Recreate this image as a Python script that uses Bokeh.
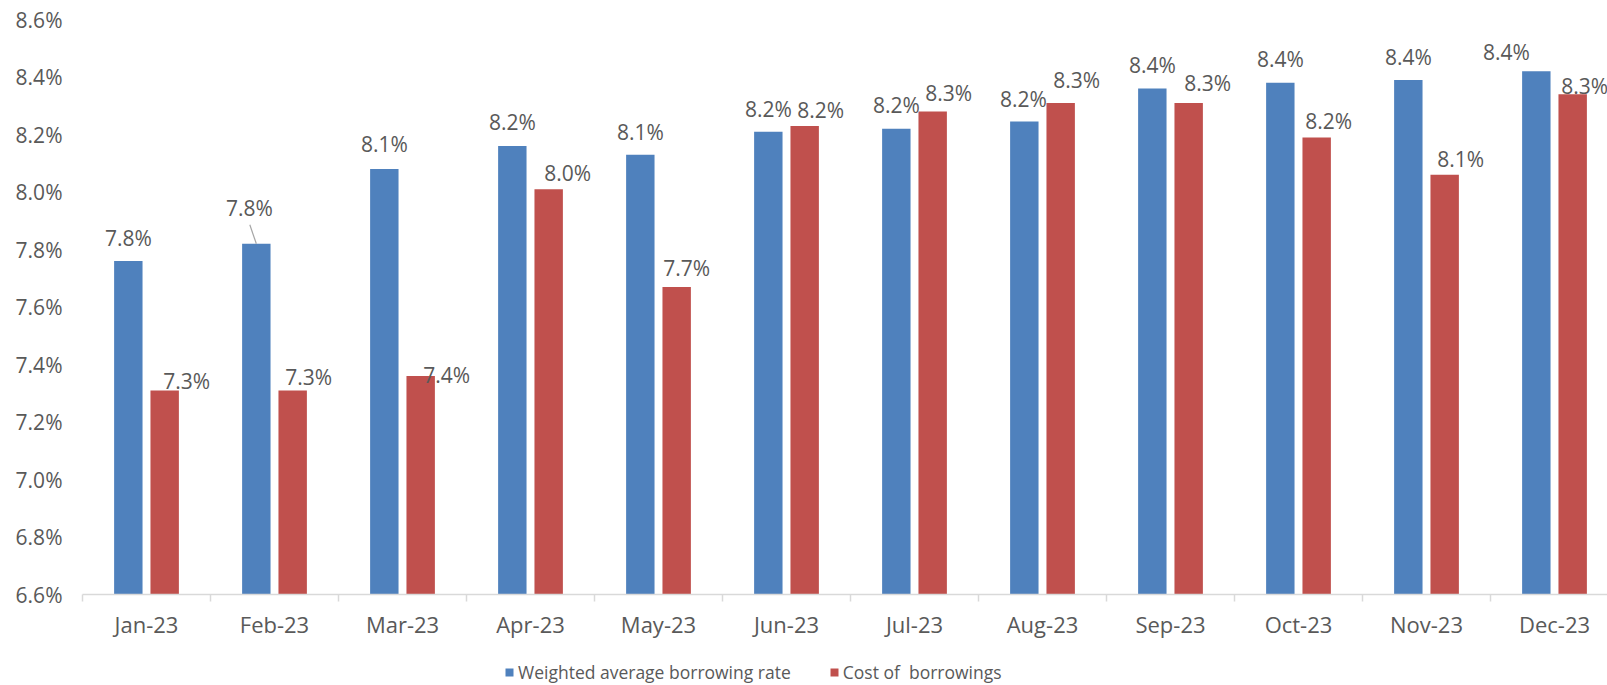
import numpy as np
from bokeh.plotting import figure
from bokeh.layouts import column
from bokeh.models import Range1d, FixedTicker, PrintfTickFormatter, Legend, LegendItem
from bokeh.embed import file_html
from bokeh.resources import INLINE
from bokeh.core.properties import value

# ---------------- data ----------------
months = ["Jan-23", "Feb-23", "Mar-23", "Apr-23", "May-23", "Jun-23",
          "Jul-23", "Aug-23", "Sep-23", "Oct-23", "Nov-23", "Dec-23"]
weighted_avg_rate = [7.76, 7.82, 8.08, 8.16, 8.13, 8.21, 8.22, 8.245, 8.36, 8.38, 8.39, 8.42]
cost_of_borrowings = [7.31, 7.31, 7.36, 8.01, 7.67, 8.23, 8.28, 8.31, 8.31, 8.19, 8.06, 8.34]
y_ticks = [6.6, 6.8, 7.0, 7.2, 7.4, 7.6, 7.8, 8.0, 8.2, 8.4, 8.6]
series_names = ["Weighted average borrowing rate", "Cost of  borrowings"]

# ---------------- label placement (screen pixels) ----------------
blue_label_dx = [0, -7, 0, 0, 0, 0, 0, -1, 0, 0, 0, -30]
blue_label_dy = [-23, -36, -25, -24, -23, -23, -24, -23, -24, -24, -23, -19]
red_label_dx = [22, 16, 26, 19, 10, 16, 16, 16, 19, 12, 16, 12]
red_label_dy = [-9, -13, -1, -16, -19, -16, -19, -23, -20, -16, -16, -8]

FONT = "Open Sans"
TEXT = "#595959"
BLUE = "#4F81BD"
RED = "#C0504D"
AXIS = "#D9D9D9"

CAT_PX = 128.0          # pixel width of one month slot
FRAME_W = 1525
FRAME_H = 575
BAR_W = 0.222
BAR_OFF = 0.142

idx = np.arange(len(months))
centers = idx + 0.5
x_blue = centers - BAR_OFF
x_red = centers + BAR_OFF

p = figure(width=1607, height=654, output_backend="svg", toolbar_location=None,
           x_range=Range1d(0, FRAME_W / CAT_PX), y_range=Range1d(y_ticks[0], y_ticks[-1]),
           min_border_left=82, min_border_right=0, min_border_top=19, min_border_bottom=60)
p.outline_line_color = None
p.xgrid.grid_line_color = None
p.ygrid.grid_line_color = None
p.background_fill_color = "white"
p.border_fill_color = "white"

rb = p.vbar(x=x_blue, top=weighted_avg_rate, bottom=y_ticks[0], width=BAR_W,
            fill_color=BLUE, line_color=None)
rr = p.vbar(x=x_red, top=cost_of_borrowings, bottom=y_ticks[0], width=BAR_W,
            fill_color=RED, line_color=None)

# leader line for Feb label
px_per_pct = FRAME_H / (y_ticks[-1] - y_ticks[0])
p.segment(x0=[x_blue[1]], y0=[weighted_avg_rate[1]],
          x1=[x_blue[1] - 6.5 / CAT_PX], y1=[weighted_avg_rate[1] + 19 / px_per_pct],
          line_color="#A6A6A6", line_width=1.2)

p.text(x=x_blue, y=weighted_avg_rate, text=[f"{v:.1f}%" for v in weighted_avg_rate],
       x_offset=blue_label_dx, y_offset=blue_label_dy,
       text_font=value(FONT), text_font_size="21px", text_color=TEXT,
       text_align="center", text_baseline="middle")
p.text(x=x_red, y=cost_of_borrowings, text=[f"{v:.1f}%" for v in cost_of_borrowings],
       x_offset=red_label_dx, y_offset=red_label_dy,
       text_font=value(FONT), text_font_size="21px", text_color=TEXT,
       text_align="center", text_baseline="middle")

# x axis: labels at slot centers, tick marks at slot boundaries
xa = p.xaxis[0]
xa.ticker = FixedTicker(ticks=list(centers), minor_ticks=[float(i) for i in idx])
xa.major_label_overrides = {float(c): m for c, m in zip(centers, months)}
xa.axis_line_color = AXIS
xa.axis_line_width = 1.5
xa.major_tick_line_color = None
xa.major_tick_out = 0
xa.major_tick_in = 0
xa.minor_tick_line_color = AXIS
xa.minor_tick_line_width = 1.5
xa.minor_tick_out = 7
xa.minor_tick_in = 0
xa.major_label_standoff = 7
xa.major_label_text_font = FONT
xa.major_label_text_font_size = "22px"
xa.major_label_text_color = TEXT

ya = p.yaxis[0]
ya.ticker = FixedTicker(ticks=y_ticks)
ya.formatter = PrintfTickFormatter(format="%.1f%%")
ya.axis_line_color = None
ya.major_tick_line_color = None
ya.minor_tick_line_color = None
ya.major_tick_out = 0
ya.major_tick_in = 0
ya.major_label_standoff = 20
ya.major_label_text_font = FONT
ya.major_label_text_font_size = "21px"
ya.major_label_text_color = TEXT

# ---------------- legend strip ----------------
lf = figure(width=1607, height=31, output_backend="svg", toolbar_location=None,
            x_axis_type=None, y_axis_type=None, x_range=Range1d(-2, -1), y_range=Range1d(0, 1),
            min_border_left=0, min_border_right=0, min_border_top=0, min_border_bottom=0)
lf.outline_line_color = None
lf.grid.grid_line_color = None
lf.background_fill_color = "white"
lf.border_fill_color = "white"
lb = lf.vbar(x=x_blue, top=weighted_avg_rate, width=BAR_W, fill_color=BLUE, line_color=None)
lr = lf.vbar(x=x_red, top=cost_of_borrowings, width=BAR_W, fill_color=RED, line_color=None)

legend = Legend(items=[LegendItem(label=series_names[0], renderers=[lb]),
                       LegendItem(label=series_names[1], renderers=[lr])],
                orientation="horizontal", location=(422, 1),
                padding=0, margin=0, spacing=38, label_standoff=4,
                glyph_width=10, glyph_height=10,
                border_line_color=None, background_fill_alpha=0,
                label_text_font=FONT, label_text_font_size="17.5px",
                label_text_color=TEXT)
lf.add_layout(legend, "center")

open("out.html", "w").write(file_html(column(p, lf, spacing=0), INLINE))
